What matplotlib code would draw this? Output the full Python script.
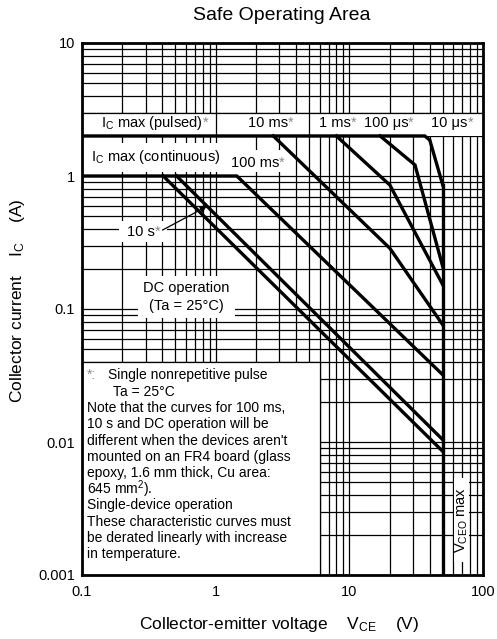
import matplotlib
matplotlib.use("Agg")
import matplotlib.pyplot as plt
from matplotlib.patches import Rectangle
from matplotlib.ticker import FixedLocator, FixedFormatter, LogLocator, NullFormatter

plt.rcParams['font.family'] = ['Liberation Sans', 'DejaVu Sans']
plt.rcParams['mathtext.default'] = 'regular'

# ---- data (V_CE in volts, I_C in amperes) ----
pulse_10us_v = [0.1, 36.7, 40.0, 50.0]
pulse_10us_i = [2.0, 2.0, 1.86, 0.855]
pulse_100us_v = [17.0, 31.0, 50.0]
pulse_100us_i = [2.0, 1.21, 0.208]
pulse_1ms_v = [8.0, 20.1, 50.0]
pulse_1ms_i = [2.0, 0.855, 0.152]
pulse_10ms_v = [2.70, 20.1, 50.0]
pulse_10ms_i = [2.0, 0.286, 0.076]
pulse_100ms_v = [0.1, 1.44, 50.0]
pulse_100ms_i = [1.0, 1.0, 0.032]
pulse_10s_v = [0.51, 50.0]
pulse_10s_i = [1.0, 0.0104]
dc_v = [0.405, 50.0]
dc_i = [1.0, 0.0085]
vceo_v = [50.0, 50.0]
vceo_i = [0.001, 0.855]

x_ticks = [0.1, 1, 10, 100]
x_ticklabels = ['0.1', '1', '10', '100']
y_ticks = [0.001, 0.01, 0.1, 1, 10]
y_ticklabels = ['0.001', '0.01', '0.1', '1', '10']

notes = ["Note that the curves for 100 ms,",
         "10 s and DC operation will be",
         "different when the devices aren't",
         "mounted on an FR4 board (glass",
         "epoxy, 1.6 mm thick, Cu area:",
         "645 mm$^2$).",
         "Single-device operation",
         "These characteristic curves must",
         "be derated linearly with increase",
         "in temperature."]

W, H = 497, 639
fig = plt.figure(figsize=(W / 100, H / 100), dpi=100)
L, R, T, B = 82, 483, 43, 575
ax = fig.add_axes([L / W, (H - B) / H, (R - L) / W, (B - T) / H])
ax.set_xscale('log')
ax.set_yscale('log')
ax.set_xlim(0.1, 100)
ax.set_ylim(0.001, 10)

ax.xaxis.set_major_locator(FixedLocator(x_ticks))
ax.xaxis.set_major_formatter(FixedFormatter(x_ticklabels))
ax.yaxis.set_major_locator(FixedLocator(y_ticks))
ax.yaxis.set_major_formatter(FixedFormatter(y_ticklabels))
ax.xaxis.set_minor_locator(LogLocator(base=10, subs=range(2, 10)))
ax.yaxis.set_minor_locator(LogLocator(base=10, subs=range(2, 10)))
ax.xaxis.set_minor_formatter(NullFormatter())
ax.yaxis.set_minor_formatter(NullFormatter())
ax.tick_params(which='both', length=0, labelsize=10.5)
ax.tick_params(axis='x', pad=7)
ax.tick_params(axis='y', pad=5)
ax.grid(which='both', color='black', linewidth=0.9, zorder=1)
for s in ax.spines.values():
    s.set_linewidth(2.0)
    s.set_zorder(6)


def white_box(x0, x1, y0, y1):
    ax.add_patch(Rectangle((x0, y0), x1 - x0, y1 - y0, facecolor='white',
                           edgecolor='none', zorder=2))


# white label band between 2 A and 3 A
white_box(0.1, 100, 2.0, 3.0)
ax.plot([0.1, 100], [3, 3], color='black', lw=0.9, zorder=2.5)
for xv in (1, 5):
    ax.plot([xv, xv], [2, 3], color='black', lw=0.9, zorder=2.5)

# label backgrounds
white_box(1.33, 3.47, 1.07, 1.57)     # 100 ms*
white_box(0.19, 0.435, 0.318, 0.459)  # 10 s*
white_box(61, 79, 0.00125, 0.0054)    # VCEO max

# notes box
ax.add_patch(Rectangle((0.1, 0.001), 5.9, 0.039, facecolor='white', edgecolor='black', lw=0.9, zorder=2))

lw = 2.4
for xs, ys in [(pulse_10us_v, pulse_10us_i), (pulse_100us_v, pulse_100us_i),
               (pulse_1ms_v, pulse_1ms_i), (pulse_10ms_v, pulse_10ms_i),
               (pulse_100ms_v, pulse_100ms_i), (pulse_10s_v, pulse_10s_i),
               (dc_v, dc_i), (vceo_v, vceo_i)]:
    ax.plot(xs, ys, color='black', lw=lw, solid_joinstyle='miter', zorder=3)

fs = 10.5
star_col = '#8a8a8a'


def star(t):
    ax.annotate('*', xy=(1, 0.5), xycoords=t, ha='left', va='center', fontsize=fs,
                color=star_col, zorder=5)


band_labels = [(0.335, r'I$_C$ max (pulsed)'), (2.45, '10 ms'), (7.8, '1 ms'),
               (18.8, '100 μs'), (56, '10 μs')]
for xv, s in band_labels:
    star(ax.text(xv, 2.5, s, ha='center', va='center', fontsize=fs, zorder=4))

ax.text(0.355, 1.38, r'I$_C$ max (continuous)', ha='center', va='center', fontsize=fs, zorder=4,
        bbox=dict(facecolor='white', edgecolor='none', pad=4))
star(ax.text(1.96, 1.25, '100 ms', ha='center', va='center', fontsize=fs, zorder=4))
star(ax.text(0.275, 0.381, '10 s', ha='center', va='center', fontsize=fs, zorder=4))
ax.annotate('', xy=(0.857, 0.59), xytext=(0.40, 0.392),
            arrowprops=dict(arrowstyle='-|>', color='black', lw=0.9, mutation_scale=9,
                            shrinkA=0, shrinkB=0), zorder=4)

ax.text(0.606, 0.123, 'DC operation\n(Ta = 25°C)', ha='center', va='center', fontsize=fs,
        linespacing=1.3, zorder=4, bbox=dict(facecolor='white', edgecolor='none', pad=4))
ax.text(69, 0.0026, r'V$_{CEO}$ max', rotation=90, ha='center', va='center', fontsize=fs, zorder=4)


# notes text (axes-fraction positions derived from pixel layout)
def fx(px):
    return (px - L) / (R - L)


def fy(py):
    return (B - py) / (B - T)


nfs = 10
ax.text(fx(86.7), fy(375), '*:', color=star_col, fontsize=nfs, va='center', ha='left', transform=ax.transAxes, zorder=5)
ax.text(fx(108.3), fy(375), 'Single nonrepetitive pulse', fontsize=nfs, va='center', ha='left', transform=ax.transAxes, zorder=5)
ax.text(fx(113), fy(391.5), 'Ta = 25°C', fontsize=nfs, va='center', ha='left', transform=ax.transAxes, zorder=5)
for k, line in enumerate(notes):
    ax.text(fx(86.7), fy(408.2 + 16.2 * k), line, fontsize=nfs, va='center', ha='left',
            transform=ax.transAxes, zorder=5)

fig.text(282 / W, 1 - 15 / H, 'Safe Operating Area', ha='center', va='center', fontsize=14)
fig.text(279 / W, 1 - 624 / H, r'Collector-emitter voltage    V$_{CE}$    (V)', ha='center', va='center', fontsize=12.5)
fig.text(18 / W, 1 - 301 / H, r'Collector current    I$_C$    (A)', ha='center', va='center', rotation=90, fontsize=12.5)

fig.savefig('out.png', dpi=100)
